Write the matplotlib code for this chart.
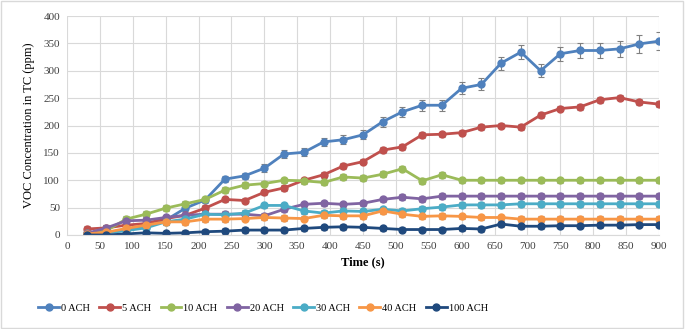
import numpy as np
import matplotlib
matplotlib.use("Agg")
import matplotlib.pyplot as plt
from matplotlib.lines import Line2D

plt.rcParams['font.family'] = ['Liberation Serif', 'DejaVu Serif']

time = list(range(30, 901, 30))

ach_0 = [2, 5, 9, 15, 27, 49, 64, 102, 108, 122, 148, 151, 170, 174, 183,
         207, 225, 237, 237, 268, 275, 314, 334, 300, 331, 337, 337, 340, 349, 354]
ach_5 = [11, 13, 18, 21, 30, 36, 49, 65, 63, 78, 86, 100, 110, 126, 134,
         155, 161, 183, 184, 187, 197, 200, 197, 219, 231, 234, 247, 251, 243, 239]
ach_10 = [3, 8, 29, 38, 49, 57, 65, 82, 91, 94, 100, 99, 96, 106, 104,
          111, 121, 99, 110, 100, 100, 100, 100, 100, 100, 100, 100, 100, 100, 100]
ach_20 = [3, 13, 26, 27, 32, 36, 38, 38, 38, 35, 47, 56, 58, 56, 58,
          65, 69, 66, 71, 71, 71, 71, 71, 71, 71, 71, 71, 71, 71, 71]
ach_30 = [0, 4, 8, 13, 24, 29, 38, 37, 40, 54, 54, 44, 40, 44, 43,
          47, 44, 48, 51, 55, 55, 55, 57, 57, 57, 57, 57, 57, 57, 57]
ach_40 = [2, 5, 12, 18, 24, 24, 29, 29, 30, 32, 31, 30, 36, 35, 35,
          44, 38, 34, 35, 34, 32, 32, 29, 29, 29, 29, 29, 29, 29, 29]
ach_100 = [0, 0, 2, 4, 3, 4, 6, 7, 9, 9, 9, 12, 14, 15, 14,
           12, 10, 10, 10, 12, 11, 20, 16, 16, 17, 17, 18, 18, 19, 19]

err_0 = [3, 3, 4, 4, 5, 5, 6, 6, 6, 7, 7, 7, 8, 8, 8,
         9, 9, 10, 10, 11, 11, 12, 13, 12, 13, 14, 14, 15, 16, 17]
err_other = [5] * 30

labels = ['0 ACH', '5 ACH', '10 ACH', '20 ACH', '30 ACH', '40 ACH', '100 ACH']
colors = ['#4F81BD', '#C0504D', '#9BBB59', '#8064A2', '#4BACC6', '#F79646', '#1F497D']
series = [ach_0, ach_5, ach_10, ach_20, ach_30, ach_40, ach_100]
errors = [err_0, err_other, err_other, err_other, err_other, err_other, err_other]

fig = plt.figure(figsize=(6.85, 3.29), dpi=100)
ax = fig.add_axes([67/685, 1-235/329, (659-67)/685, (235-16)/329])

handles = []
for y, e, c, lab in zip(series, errors, colors, labels):
    ax.errorbar(time, y, yerr=e, color=c, marker='o', markersize=5, linewidth=2,
                ecolor='#808080', elinewidth=0.8, capsize=2, capthick=0.8)
    handles.append(Line2D([], [], color=c, marker='o', markersize=5, linewidth=2, label=lab))

ax.set_xlim(0, 900)
ax.set_ylim(0, 400)
ax.set_xticks(range(0, 901, 50))
ax.set_yticks(range(0, 401, 50))
ax.grid(True, color='#d9d9d9', linewidth=0.8)
ax.set_axisbelow(True)
for s in ['top', 'right', 'left']:
    ax.spines[s].set_visible(False)
ax.spines['bottom'].set_color('#d9d9d9')
ax.tick_params(length=0, labelsize=8, colors='#404040', pad=5)
ax.set_xlabel('Time (s)', fontsize=9, fontweight='bold', labelpad=4)
ax.set_ylabel('VOC Concentration in TC (ppm)', fontsize=9, labelpad=6)

fig.legend(handles=handles, loc='center', bbox_to_anchor=(263/685, 1-308/329), ncol=7,
           frameon=False, fontsize=7.5, handlelength=2.0, columnspacing=0.9,
           handletextpad=0.2)

fig.patches.append(plt.Rectangle((0.002, 0.003), 0.995, 0.993, transform=fig.transFigure,
                                 fill=False, edgecolor='#d9d9d9', linewidth=1))

plt.savefig('out.png', dpi=100)
plt.close()
